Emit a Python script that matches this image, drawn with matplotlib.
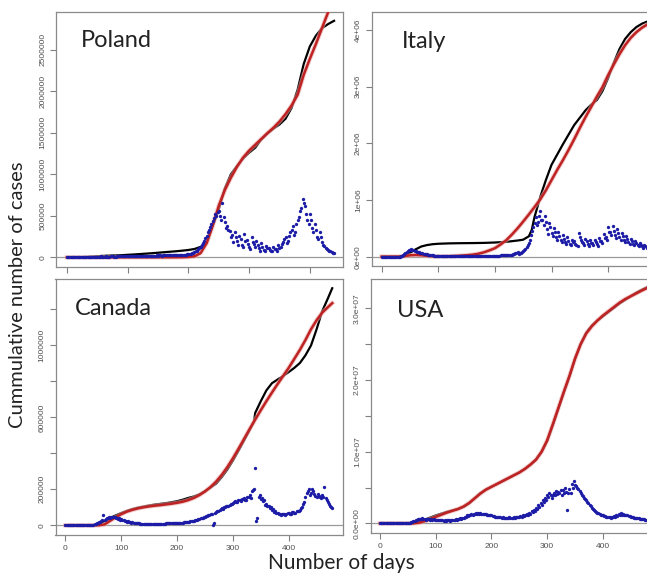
import numpy as np
import matplotlib
matplotlib.use("Agg")
import matplotlib.pyplot as plt

# ---------------- data ----------------
xticks = [0, 100, 200, 300, 400]

# Poland (thousands)
pl_black_days = [0,10,20,30,40,50,60,70,80,90,100,110,120,130,140,150,160,170,180,190,200,210,220,230,240,250,260,270,280,290,300,310,320,330,340,350,360,370,380,390,400,410,420,430,440]
pl_black = [0,0.1,1,3,8,13,17,20,22,25,30,34,39,44,49,55,61,67,73,80,88,100,125,170,380,580,830,1000,1100,1190,1260,1320,1420,1490,1550,1600,1670,1800,2020,2330,2540,2670,2760,2810,2850]
pl_red_days = pl_black_days
pl_red = [0,0,0,0,0,0,0,0,0,0,0,0,0,0,0,0,0,0,0.5,1,4,12,50,170,380,620,810,960,1090,1200,1285,1355,1425,1495,1560,1635,1725,1830,1960,2200,2390,2570,2760,2950,3140]
# daily points, days 0,4,8,...
pl_blue = [0,0,0,1,2,3,4,5,6,7,8,8,9,9,10,
           9,10,8,11,10,9,12,10,11,13,12,14,13,15,14,16,15,17,16,18,
           20,18,22,24,21,25,23,26,24,22,27,25,28,30,33,
           38,45,55,70,95,
           130,170,230,300,370,440,520,540,
           500,650,420,380,320,270,300,200,260,150,280,210,130,250,160,200,110,170,90,140,110,80,130,100,150,120,
           190,250,200,310,380,300,450,560,700,620,450,520,350,400,250,300,180,140,100,80,60,50]
# daily points, days 2,6,10,...
pl_blue_b = [0,0,1,1,2,3,4,5,6,7,7,8,8,9,9,
             8,9,9,10,9,10,11,10,12,11,13,12,14,13,14,15,16,15,17,17,
             19,20,21,22,23,24,25,24,25,26,26,27,29,31,35,
             40,50,62,80,110,
             150,200,260,330,400,470,500,560,
             450,480,350,330,250,190,240,150,220,120,200,160,100,190,120,150,80,130,70,110,90,70,100,80,110,160,
             220,170,260,330,270,400,480,600,660,520,400,450,300,330,220,240,150,110,90,70,55]

# Italy (thousands)
it_black_days = [0,10,20,30,40,50,60,70,80,90,100,120,140,160,180,200,220,240,250,260,265,270,280,290,300,310,320,330,340,350,360,370,380,390,400,410,420,430,440,450,460,470,478]
it_black = [0,0,0,2,15,70,130,180,205,220,228,235,238,240,243,250,262,285,300,360,470,700,1050,1350,1620,1800,1980,2150,2320,2450,2580,2680,2760,2920,3150,3420,3660,3840,3960,4050,4110,4150,4170]
it_red_days = [0,10,20,30,40,50,60,70,80,90,100,110,120,130,140,150,160,170,180,190,200,210,220,230,240,250,260,270,280,290,300,310,320,330,340,350,360,370,380,390,400,410,420,430,440,450,460,470,478]
it_red = [0,0,0,0,10,25,30,25,15,8,5,5,8,12,18,25,35,50,75,110,150,215,290,390,500,620,745,875,1010,1170,1350,1530,1700,1880,2070,2270,2460,2640,2820,2990,3200,3390,3570,3730,3860,3960,4040,4100,4140]
it_blue = [0,0,0,0,0,0,0,1,3,
           10,40,80,120,130,110,95,80,70,60,50,40,30,25,20,15,12,
           10,8,9,7,6,6,5,5,5,4,4,5,5,6,7,8,9,10,12,12,13,14,15,16,
           17,18,20,22,24,26,30,35,40,60,90,
           60,80,110,170,240,380,520,700,620,800,
           650,720,480,600,420,500,350,430,300,380,
           260,340,230,300,280,200,420,300,250,320,
           220,290,240,300,220,330,280,400,350,520,
           430,540,380,480,350,420,300,360,260,320,
           230,280,200,240,180,200,160,170,140]
it_blue_b = [0,0,0,0,0,0,0,2,6,
             25,60,100,125,125,100,90,75,65,55,45,35,28,22,18,14,11,
             9,8,8,7,6,5,5,5,4,4,5,5,5,6,7,8,9,11,12,13,13,14,15,16,
             17,19,21,23,25,28,32,37,48,70,50,
             70,95,140,200,300,460,600,560,720,640,
             560,620,400,520,360,440,300,360,260,320,
             220,280,200,260,230,180,350,260,210,270,
             190,250,210,260,190,280,240,330,300,430,
             380,460,330,420,300,360,260,310,220,270,
             200,240,180,210,160,180,140,150,120]

# Canada (thousands)
ca_black_days = [0,30,40,50,60,70,80,90,100,110,120,130,140,150,160,170,180,190,200,210,220,230,240,250,260,270,280,290,300,310,320,330,338,340,350,360,370,380,390,400,410,420,430,440,450,460,470,478]
ca_black = [0,0.1,0.5,1,8,22,40,55,68,80,90,98,104,110,115,119,123,128,134,142,152,160,172,190,210,232,268,310,360,415,472,530,580,625,690,750,790,810,830,852,875,902,945,1000,1090,1190,1260,1318]
ca_red_days = it_red_days
ca_red = [0,0,0,0,0,0,0,5,25,45,62,76,86,94,100,105,109,112,116,120,125,131,140,152,168,188,213,243,280,323,372,425,480,535,588,640,690,738,785,830,875,925,975,1030,1090,1140,1182,1212,1235]
ca_blue = [0,0,0,0,0,0,0,0,0,0.5,1,2,3,
           5,10,18,25,55,35,40,42,48,45,42,38,34,30,26,22,19,16,13,11,
           10,9,8,8,7,7,7,8,8,8,9,9,10,10,11,11,12,13,14,15,16,
           18,20,22,25,28,32,35,40,45,50,55,62,3,70,80,85,95,100,105,110,120,125,135,130,140,145,150,140,160,150,
           195,320,40,170,150,140,120,110,100,90,80,70,65,60,65,60,70,65,75,70,80,85,100,130,180,200,180,190,165,175,160,170,215,140,120,100]
ca_blue_b = [0,0,0,0,0,0,0,0,0,0.5,1,2,4,
             7,14,20,30,32,38,44,46,44,40,36,32,28,24,20,17,15,12,11,10,
             9,8,8,7,7,6,7,7,8,8,8,9,10,10,10,11,12,12,13,14,16,
             19,21,23,26,30,33,38,42,47,52,58,65,15,75,78,90,92,102,108,115,118,130,128,138,135,148,142,155,170,190,
             200,25,160,145,135,115,105,95,85,75,68,62,58,62,58,66,62,72,68,78,82,95,120,160,190,170,200,175,160,165,150,160,150,130,110,95]

# USA (millions)
us_black_days = it_red_days
us_black = [0,0,0,0,0,0,0.02,0.2,0.5,0.8,1.1,1.35,1.6,1.8,2.0,2.3,2.8,3.5,4.2,4.7,5.1,5.5,5.9,6.3,6.7,7.1,7.6,8.2,8.9,10.0,11.5,13.7,16.0,18.3,20.5,23.0,25.0,26.6,27.6,28.3,28.9,29.5,30.1,30.7,31.2,31.7,32.2,32.6,32.9]
us_red_days = it_red_days
us_red = [0,0,0,0,0,0,0,0.08,0.3,0.6,0.9,1.2,1.5,1.75,2.0,2.35,2.85,3.5,4.15,4.7,5.1,5.5,5.9,6.3,6.7,7.1,7.6,8.2,8.9,10.0,11.6,13.8,16.1,18.4,20.6,23.0,25.0,26.5,27.5,28.3,29.0,29.6,30.2,30.8,31.3,31.7,32.1,32.5,32.8]
us_blue = [0,0,0,0,0,0,0,0,0,0,0,0,0.01,0.05,
           0.15,0.3,0.45,0.6,0.65,0.7,0.6,0.65,0.6,0.55,
           0.6,0.5,0.5,0.45,0.45,0.4,0.45,0.4,0.45,0.5,
           0.55,0.6,0.7,0.8,0.95,1.1,1.2,1.3,1.35,1.4,
           1.45,1.4,1.35,1.3,1.2,1.15,1.1,1.0,0.95,0.9,
           0.85,0.85,0.8,0.8,0.85,0.8,0.85,0.9,0.95,1.0,
           1.1,1.2,1.3,1.5,1.7,1.9,2.2,2.5,2.9,3.2,
           3.6,3.9,4.2,3.5,4.3,4.5,4.4,4.7,4.6,4.9,
           1.9,4.8,5.5,5.9,5.2,4.8,4.2,3.8,3.4,3.0,
           2.6,2.2,1.9,1.6,1.4,1.2,1.1,1.0,0.9,0.85,
           0.9,1.0,1.1,1.3,1.4,1.3,1.2,1.1,1.0,0.9,
           0.8,0.75,0.7,0.65,0.6,0.5]
us_blue_b = [0,0,0,0,0,0,0,0,0,0,0,0,0.02,0.1,
             0.2,0.38,0.5,0.55,0.6,0.55,0.5,0.55,0.5,0.5,
             0.45,0.45,0.4,0.4,0.38,0.38,0.4,0.38,0.42,0.48,
             0.52,0.58,0.65,0.75,0.9,1.0,1.1,1.2,1.3,1.35,
             1.35,1.35,1.3,1.25,1.15,1.1,1.0,0.95,0.9,0.85,
             0.8,0.8,0.75,0.8,0.8,0.75,0.8,0.85,0.9,0.95,
             1.0,1.1,1.2,1.35,1.55,1.75,2.0,2.3,2.6,3.0,
             3.3,3.7,3.9,4.0,3.9,4.1,4.2,3.9,4.3,4.4,
             4.2,4.3,5.0,5.3,4.9,4.5,3.9,3.5,3.2,2.8,
             2.4,2.0,1.7,1.5,1.3,1.1,1.0,0.9,0.85,0.8,
             0.85,0.95,1.05,1.15,1.2,1.15,1.1,1.0,0.95,0.85,
             0.75,0.7,0.65,0.6,0.55,0.5]

pl_yticks = [0, 5e5, 1e6, 1.5e6, 2e6, 2.5e6]
pl_ylabels = ["0", "500000", "1000000", "1500000", "2000000", "2500000"]
it_yticks = [0, 1e6, 2e6, 3e6, 4e6]
it_ylabels = ["0e+00", "1e+06", "2e+06", "3e+06", "4e+06"]
ca_yticks = [0, 2e5, 4e5, 6e5, 8e5, 1e6, 1.2e6]
ca_ylabels = ["0", "200000", "", "600000", "", "1000000", ""]
us_yticks = [0, 5e6, 1e7, 1.5e7, 2e7, 2.5e7, 3e7]
us_ylabels = ["0.0e+00", "", "1.0e+07", "", "2.0e+07", "", "3.0e+07"]

# ---------------- figure ----------------
W, H = 647, 575
fig = plt.figure(figsize=(W / 100, H / 100), dpi=100)
fig.patch.set_facecolor("white")

def px_axes(left, top, right, bottom):
    return fig.add_axes([left / W, 1 - bottom / H, (right - left) / W, (bottom - top) / H])

panels = [
    dict(name="Poland", box=(56, 12, 343, 267), xlim=(-18.1, 454.7), ylim=(-117e3, 2.956e6),
         bd=pl_black_days, bv=pl_black, rd=pl_red_days, rv=pl_red, blue=pl_blue, blue_b=pl_blue_b,
         scale=1e3, yt=pl_yticks, yl=pl_ylabels, title=(81, 47), xlab=False),
    dict(name="Italy", box=(371.7, 12.3, 663, 265.7), xlim=(-17.7, 497), ylim=(-159e3, 4.31e6),
         bd=it_black_days, bv=it_black, rd=it_red_days, rv=it_red, blue=it_blue, blue_b=it_blue_b,
         scale=1e3, yt=it_yticks, yl=it_ylabels, title=(402, 48), xlab=False),
    dict(name="Canada", box=(55.5, 278.5, 343, 535), xlim=(-17.9, 497.3), ylim=(-54e3, 1.372e6),
         bd=ca_black_days, bv=ca_black, rd=ca_red_days, rv=ca_red, blue=ca_blue, blue_b=ca_blue_b,
         scale=1e3, yt=ca_yticks, yl=ca_ylabels, title=(75, 315), xlab=True),
    dict(name="USA", box=(370.7, 278.5, 657, 533.3), xlim=(-16.7, 497), ylim=(-1.39e6, 3.417e7),
         bd=us_black_days, bv=us_black, rd=us_red_days, rv=us_red, blue=us_blue, blue_b=us_blue_b,
         scale=1e6, yt=us_yticks, yl=us_ylabels, title=(397, 317), xlab=True),
]

for p in panels:
    ax = px_axes(*p["box"])
    s = p["scale"]
    ax.axhline(0, color="#9a9a9a", lw=0.9, zorder=1)
    ax.plot(p["bd"], np.array(p["bv"]) * s, color="black", lw=1.6, zorder=2)
    ax.plot(p["rd"], np.array(p["rv"]) * s, color="#e8a8a8", lw=3.2, alpha=0.6, zorder=3)
    ax.plot(p["rd"], np.array(p["rv"]) * s, color="#bf2222", lw=1.8, zorder=4)
    bdays = np.arange(len(p["blue"])) * 4
    bdays_b = np.arange(len(p["blue_b"])) * 4 + 2
    ax.plot(bdays, np.array(p["blue"]) * s, "o", ms=2.4, mew=0, color="#1c1ca6", zorder=5)
    ax.plot(bdays_b, np.array(p["blue_b"]) * s, "o", ms=2.4, mew=0, color="#1c1ca6", zorder=5)
    ax.set_xlim(*p["xlim"])
    ax.set_ylim(*p["ylim"])
    ax.set_xticks(xticks)
    ax.set_yticks(p["yt"])
    ax.set_yticklabels(p["yl"], rotation=90, va="center", ha="right",
                       fontsize=6, color="#505050", family="Liberation Sans")
    if p["xlab"]:
        ax.set_xticklabels([str(v) for v in xticks], fontsize=6, color="#505050",
                           family="Liberation Sans")
    else:
        ax.set_xticklabels([])
    ax.tick_params(length=4, width=0.8, color="#808080", pad=3)
    for sp in ax.spines.values():
        sp.set_color("#8a8a8a")
        sp.set_linewidth(0.9)
    ax.set_facecolor("white")
    tx, ty = p["title"]
    fig.text(tx / W, 1 - ty / H, p["name"], fontsize=17, family="Lato",
             color="#222222", ha="left", va="baseline")

fig.text(18 / W, 1 - 295 / H, "Cummulative number of cases", rotation=90,
         ha="center", va="center", fontsize=14.5, family="Lato", color="#222222")
fig.text(341 / W, 1 - 563 / H, "Number of days", ha="center", va="center",
         fontsize=15, family="Lato", color="#222222")

fig.savefig("out.png", dpi=100)
